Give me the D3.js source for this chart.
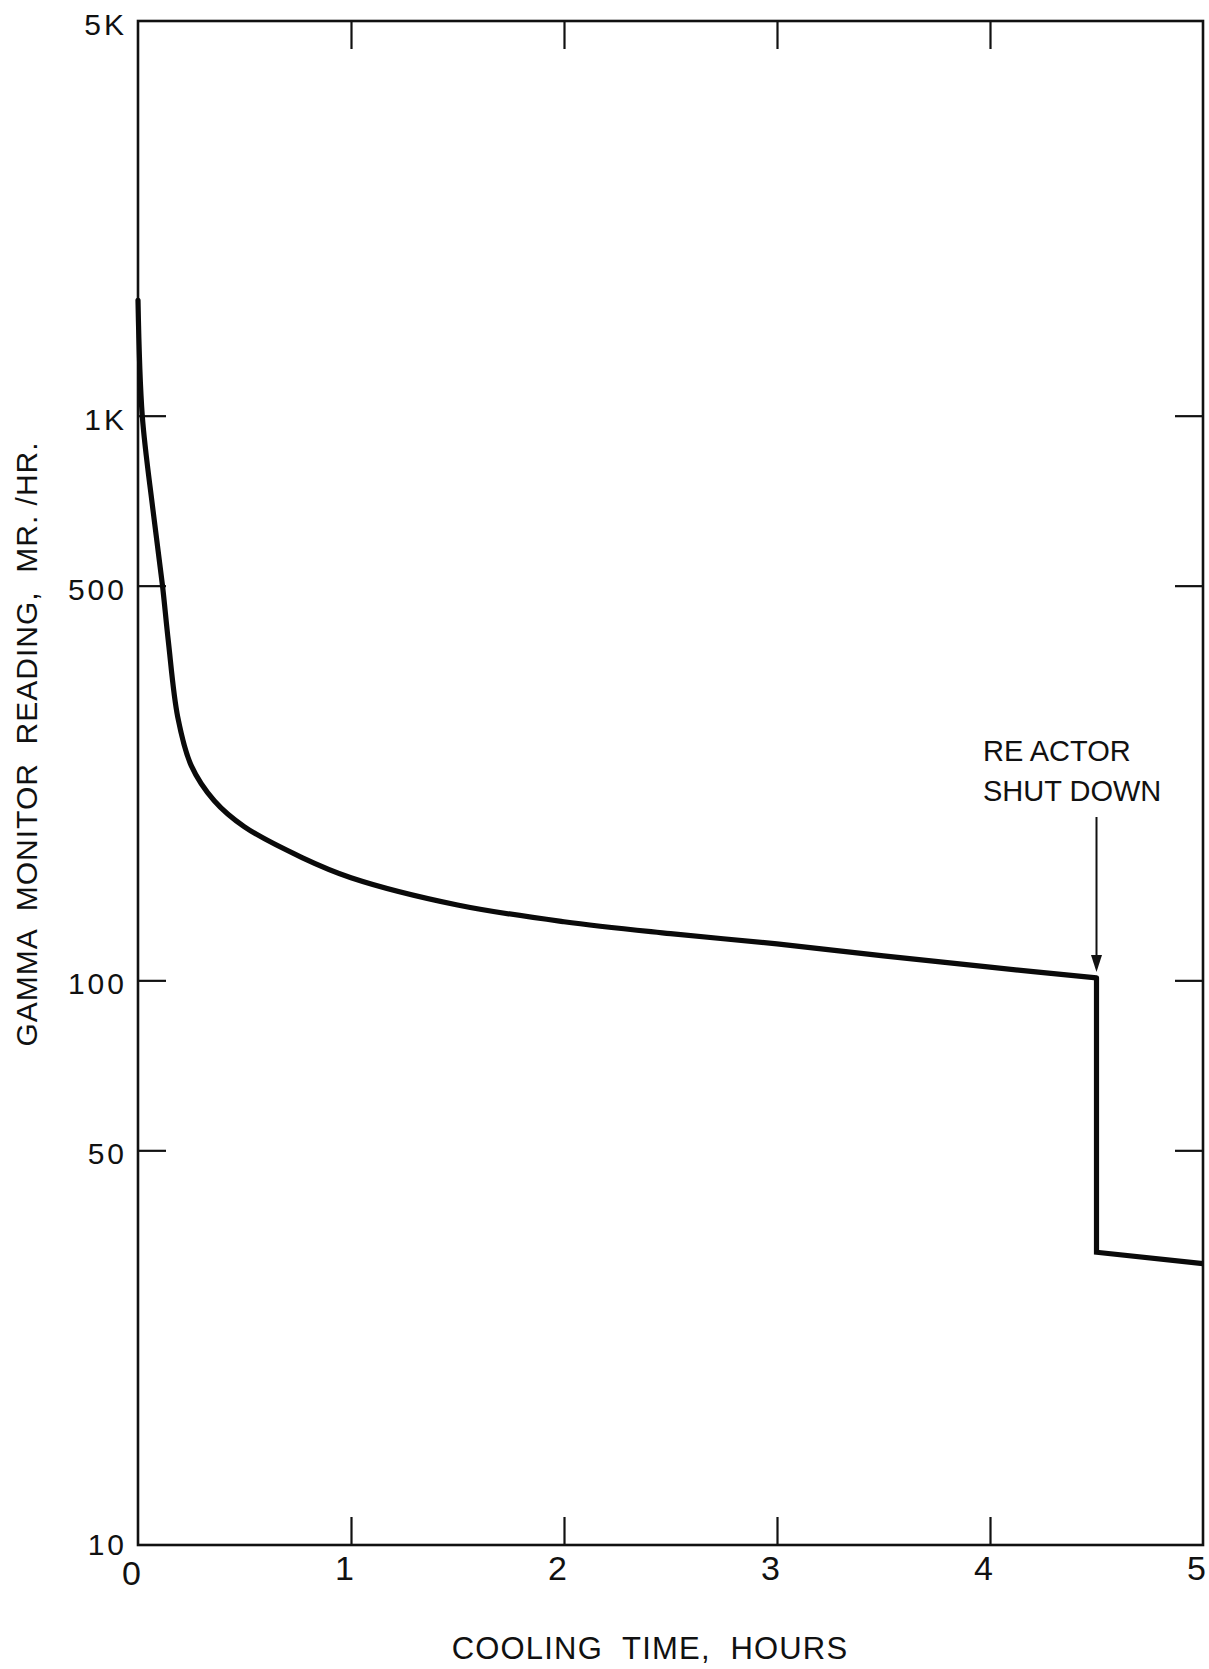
<!DOCTYPE html>
<html>
<head>
<meta charset="utf-8">
<script src="https://cdn.jsdelivr.net/npm/d3@7"></script>
<style>
  html, body { margin: 0; padding: 0; background: #fff; }
  svg { display: block; }
  text { font-family: "Liberation Sans", Arial, sans-serif; fill: #111; }
</style>
</head>
<body>
<svg id="chart" width="1209" height="1669"></svg>
<script>
// Cooling time (hours) and gamma monitor reading (mR/hr) up to reactor shutdown
const coolingHours = [0, 0.02, 0.07, 0.115, 0.142, 0.187, 0.25, 0.358, 0.5, 0.77, 1.0, 1.5, 2.0, 2.5, 3.0, 3.5, 4.0, 4.5];
const gammaReading = [1600, 1000, 682, 500, 400, 292, 240, 208, 187, 165, 152, 136, 127, 121, 116, 110.5, 105.5, 101];
// readings after shutdown
const afterHours = [4.5, 5.0];
const afterReading = [33, 31.5];

const xTickValues = [0, 1, 2, 3, 4, 5];
const xTickLabels = ["0", "1", "2", "3", "4", "5"];
const yTickValues = [5000, 1000, 500, 100, 50, 10];
const yTickLabels = ["5K", "1K", "500", "100", "50", "10"];

const shutdownTime = 4.5;
const shutdownLabel = ["RE ACTOR", "SHUT DOWN"];
const xTitle = "COOLING  TIME,  HOURS";
const yTitle = "GAMMA  MONITOR  READING,  MR. /HR.";

const margin = { left: 138, right: 6, top: 21, bottom: 124 };
const W = 1209, H = 1669;
const svg = d3.select("#chart");

const x = d3.scaleLinear().domain([0, 5]).range([margin.left, W - margin.right]);
const y = d3.scaleLog().domain([10, 5000]).range([H - margin.bottom, margin.top]);

const inner = [1, 2, 3, 4];
const innerY = [1000, 500, 100, 50];
const tickLen = 28;

// frame
svg.append("rect")
  .attr("x", x(0)).attr("y", y(5000))
  .attr("width", x(5) - x(0)).attr("height", y(10) - y(5000))
  .attr("fill", "none").attr("stroke", "#111").attr("stroke-width", 2.6);

function styleAxis(g) {
  g.select(".domain").remove();
  g.selectAll(".tick line").attr("stroke", "#111").attr("stroke-width", 2.2);
}

// inward tick marks on all four sides
svg.append("g").attr("transform", `translate(${x(0)},0)`)
  .call(d3.axisLeft(y).tickValues(innerY).tickSize(-tickLen).tickFormat(""))
  .call(styleAxis);
svg.append("g").attr("transform", `translate(${x(5)},0)`)
  .call(d3.axisRight(y).tickValues(innerY).tickSize(-tickLen).tickFormat(""))
  .call(styleAxis);
svg.append("g").attr("transform", `translate(0,${y(5000)})`)
  .call(d3.axisTop(x).tickValues(inner).tickSize(-tickLen).tickFormat(""))
  .call(styleAxis);
svg.append("g").attr("transform", `translate(0,${y(10)})`)
  .call(d3.axisBottom(x).tickValues(inner).tickSize(-tickLen).tickFormat(""))
  .call(styleAxis);

// y tick labels
const yLab = svg.append("g").attr("transform", `translate(${x(0)},0)`)
  .call(d3.axisLeft(y).tickValues(yTickValues).tickSize(0).tickPadding(11)
    .tickFormat((d, i) => yTickLabels[i]));
yLab.select(".domain").remove();
yLab.selectAll("text")
  .style("font-family", '"Liberation Sans", Arial, sans-serif')
  .style("font-size", "30px").style("letter-spacing", "3px").attr("fill", "#111")
  .attr("dy", d => d === 10 ? "0.3em" : "0.45em");

// x tick labels (the origin label sits a little lower, clear of the "10")
const xLab = svg.append("g").attr("transform", `translate(0,${y(10)})`)
  .call(d3.axisBottom(x).tickValues(xTickValues).tickSize(0).tickPadding(11)
    .tickFormat((d, i) => xTickLabels[i]));
xLab.select(".domain").remove();
xLab.selectAll("text")
  .style("font-family", '"Liberation Sans", Arial, sans-serif')
  .style("font-size", "34px").attr("fill", "#111")
  .attr("dx", "-7px").attr("dy", d => d === 0 ? "0.86em" : "0.71em");

// decay curve up to shutdown
const pts = coolingHours.map((t, i) => [t, gammaReading[i]]);
svg.append("path")
  .datum(pts)
  .attr("fill", "none").attr("stroke", "#0a0a0a")
  .attr("stroke-width", 5.2).attr("stroke-linejoin", "round").attr("stroke-linecap", "round")
  .attr("d", d3.line().x(d => x(d[0])).y(d => y(d[1])).curve(d3.curveCatmullRom.alpha(0.5)));

// drop at shutdown and the level after it
const stepPts = [pts[pts.length - 1]].concat(afterHours.map((t, i) => [t, afterReading[i]]));
svg.append("path")
  .attr("fill", "none").attr("stroke", "#0a0a0a")
  .attr("stroke-width", 5.2).attr("stroke-linejoin", "miter")
  .attr("d", d3.line().x(d => x(d[0])).y(d => y(d[1]))(stepPts));

// shutdown annotation
const shutdownValue = gammaReading[coolingHours.indexOf(shutdownTime)];
const ax = x(shutdownTime);
const tipY = y(shutdownValue) - 6;
svg.append("line")
  .attr("x1", ax).attr("x2", ax).attr("y1", 817).attr("y2", tipY - 14)
  .attr("stroke", "#111").attr("stroke-width", 2);
svg.append("path")
  .attr("d", `M${ax - 5.5},${tipY - 17} L${ax + 5.5},${tipY - 17} L${ax},${tipY} Z`)
  .attr("fill", "#111");
svg.append("g").selectAll("text").data(shutdownLabel).join("text")
  .attr("x", 983).attr("y", (d, i) => 761 + i * 40)
  .attr("font-size", 29)
  .text(d => d);

// axis titles
svg.append("text")
  .attr("x", 650).attr("y", 1659)
  .attr("text-anchor", "middle").attr("font-size", 31).attr("letter-spacing", 1.2)
  .attr("xml:space", "preserve")
  .text(xTitle);
svg.append("text")
  .attr("transform", `translate(37,${(433 + 1055) / 2}) rotate(-90)`)
  .attr("text-anchor", "middle").attr("font-size", 30).attr("letter-spacing", 1)
  .attr("xml:space", "preserve")
  .text(yTitle);
</script>
</body>
</html>
